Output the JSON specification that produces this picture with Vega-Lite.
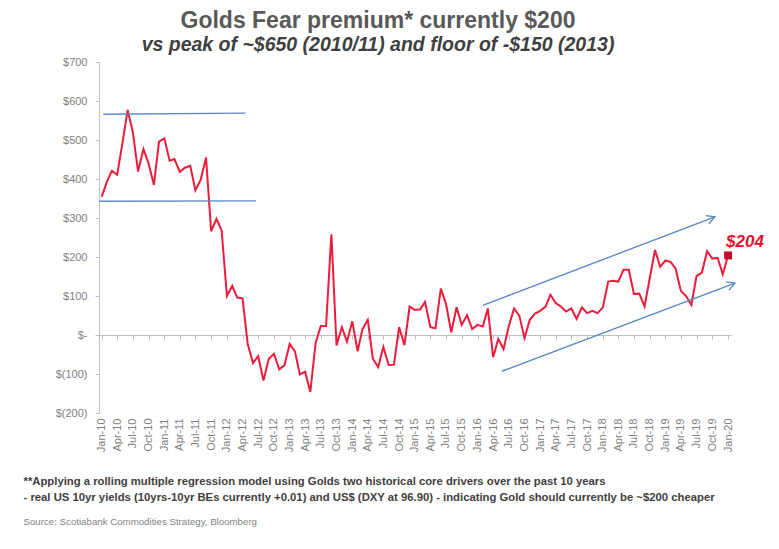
{
  "$schema": "https://vega.github.io/schema/vega-lite/v6.json",
  "width": 632,
  "height": 351,
  "autosize": {"type": "none"},
  "padding": {"left": 99, "top": 62, "right": 48, "bottom": 136},
  "background": "white",
  "config": {
    "view": {"stroke": null},
    "font": "Liberation Sans",
    "axisY": {
      "grid": false, "domainColor": "#bfbfbf", "tickColor": "#bfbfbf", "tickSize": 4,
      "labelPadding": 8, "labelOverlap": false, "labelFont": "Liberation Sans", "labelFontSize": 11, "labelColor": "#808080"
    }
  },
  "title": {
    "text": "Golds Fear premium* currently $200",
    "subtitle": "vs peak of ~$650 (2010/11) and floor of -$150 (2013)",
    "anchor": "middle",
    "frame": "group",
    "dx": -37,
    "offset": 2,
    "font": "Liberation Sans",
    "fontSize": 23,
    "fontWeight": "bold",
    "color": "#595959",
    "subtitleFont": "Liberation Sans",
    "subtitleFontSize": 19.5,
    "subtitleFontWeight": "bold",
    "subtitleFontStyle": "italic",
    "subtitleColor": "#404040",
    "subtitlePadding": 3
  },
  "datasets": {
    "series": [
      {"m": "2010-01", "v": 355}, {"m": "2010-02", "v": 394}, {"m": "2010-03", "v": 421}, {"m": "2010-04", "v": 411},
      {"m": "2010-05", "v": 490}, {"m": "2010-06", "v": 577}, {"m": "2010-07", "v": 521}, {"m": "2010-08", "v": 419},
      {"m": "2010-09", "v": 477}, {"m": "2010-10", "v": 440}, {"m": "2010-11", "v": 385}, {"m": "2010-12", "v": 496},
      {"m": "2011-01", "v": 504}, {"m": "2011-02", "v": 447}, {"m": "2011-03", "v": 451}, {"m": "2011-04", "v": 418},
      {"m": "2011-05", "v": 429}, {"m": "2011-06", "v": 434}, {"m": "2011-07", "v": 371}, {"m": "2011-08", "v": 398},
      {"m": "2011-09", "v": 455}, {"m": "2011-10", "v": 266}, {"m": "2011-11", "v": 298}, {"m": "2011-12", "v": 268},
      {"m": "2012-01", "v": 100}, {"m": "2012-02", "v": 126}, {"m": "2012-03", "v": 96}, {"m": "2012-04", "v": 94},
      {"m": "2012-05", "v": -23}, {"m": "2012-06", "v": -72}, {"m": "2012-07", "v": -54}, {"m": "2012-08", "v": -117},
      {"m": "2012-09", "v": -61}, {"m": "2012-10", "v": -48}, {"m": "2012-11", "v": -88}, {"m": "2012-12", "v": -78},
      {"m": "2013-01", "v": -23}, {"m": "2013-02", "v": -43}, {"m": "2013-03", "v": -101}, {"m": "2013-04", "v": -94},
      {"m": "2013-05", "v": -146}, {"m": "2013-06", "v": -21}, {"m": "2013-07", "v": 23}, {"m": "2013-08", "v": 23},
      {"m": "2013-09", "v": 258}, {"m": "2013-10", "v": -27}, {"m": "2013-11", "v": 20}, {"m": "2013-12", "v": -17},
      {"m": "2014-01", "v": 35}, {"m": "2014-02", "v": -42}, {"m": "2014-03", "v": 15}, {"m": "2014-04", "v": 39},
      {"m": "2014-05", "v": -61}, {"m": "2014-06", "v": -82}, {"m": "2014-07", "v": -31}, {"m": "2014-08", "v": -77},
      {"m": "2014-09", "v": -76}, {"m": "2014-10", "v": 20}, {"m": "2014-11", "v": -26}, {"m": "2014-12", "v": 73},
      {"m": "2015-01", "v": 64}, {"m": "2015-02", "v": 66}, {"m": "2015-03", "v": 85}, {"m": "2015-04", "v": 20},
      {"m": "2015-05", "v": 17}, {"m": "2015-06", "v": 119}, {"m": "2015-07", "v": 80}, {"m": "2015-08", "v": 7},
      {"m": "2015-09", "v": 71}, {"m": "2015-10", "v": 26}, {"m": "2015-11", "v": 51}, {"m": "2015-12", "v": 15},
      {"m": "2016-01", "v": 26}, {"m": "2016-02", "v": 22}, {"m": "2016-03", "v": 68}, {"m": "2016-04", "v": -57},
      {"m": "2016-05", "v": -10}, {"m": "2016-06", "v": -36}, {"m": "2016-07", "v": 22}, {"m": "2016-08", "v": 68},
      {"m": "2016-09", "v": 49}, {"m": "2016-10", "v": -8}, {"m": "2016-11", "v": 39}, {"m": "2016-12", "v": 55},
      {"m": "2017-01", "v": 62}, {"m": "2017-02", "v": 73}, {"m": "2017-03", "v": 103}, {"m": "2017-04", "v": 82},
      {"m": "2017-05", "v": 73}, {"m": "2017-06", "v": 60}, {"m": "2017-07", "v": 68}, {"m": "2017-08", "v": 41},
      {"m": "2017-09", "v": 71}, {"m": "2017-10", "v": 56}, {"m": "2017-11", "v": 62}, {"m": "2017-12", "v": 56},
      {"m": "2018-01", "v": 71}, {"m": "2018-02", "v": 137}, {"m": "2018-03", "v": 139}, {"m": "2018-04", "v": 137},
      {"m": "2018-05", "v": 167}, {"m": "2018-06", "v": 167}, {"m": "2018-07", "v": 105}, {"m": "2018-08", "v": 106},
      {"m": "2018-09", "v": 73}, {"m": "2018-10", "v": 145}, {"m": "2018-11", "v": 218}, {"m": "2018-12", "v": 175},
      {"m": "2019-01", "v": 191}, {"m": "2019-02", "v": 187}, {"m": "2019-03", "v": 170}, {"m": "2019-04", "v": 113},
      {"m": "2019-05", "v": 100}, {"m": "2019-06", "v": 77}, {"m": "2019-07", "v": 151}, {"m": "2019-08", "v": 160},
      {"m": "2019-09", "v": 215}, {"m": "2019-10", "v": 196}, {"m": "2019-11", "v": 198}, {"m": "2019-12", "v": 156},
      {"m": "2020-01", "v": 204}
    ],
    "last": [{"m": "2020-01", "v": 204, "label": "$204"}],
    "hlines": [
      {"x": "2010-01-10", "x2": "2012-04-18", "y": 566, "y2": 569},
      {"x": "2009-12-17", "x2": "2012-06-18", "y": 343, "y2": 344}
    ],
    "arrows": [
      {"x": "2016-02-01", "y": 76, "x2": "2019-10-16", "y2": 303},
      {"x": "2016-05-22", "y": -93, "x2": "2020-02-10", "y2": 133}
    ]
  },
  "resolve": {"axis": {"x": "independent"}},
  "layer": [
    {
      "data": {"name": "series"},
      "mark": {"type": "line", "color": "#EE1C3A", "strokeWidth": 2},
      "encoding": {
        "x": {
          "field": "m", "type": "temporal",
          "scale": {"type": "utc", "domain": [{"year": 2009, "month": 12, "date": 16, "utc": true}, {"year": 2020, "month": 1, "date": 18, "utc": true}]},
          "axis": {
            "orient": "bottom",
            "format": "%b-%y",
            "tickCount": {"interval": "month", "step": 3},
            "labelAngle": -90, "labelAlign": "right", "labelBaseline": "middle",
            "labelFont": "Liberation Sans", "labelFontSize": 11, "labelColor": "#7f7f7f",
            "labelPadding": 5, "labelOverlap": false, "labelFlush": false,
            "domain": false, "ticks": false, "grid": false,
            "title": ["**Applying a rolling multiple regression model using Golds two historical core drivers over the past 10 years", "- real US 10yr yields (10yrs-10yr BEs currently +0.01) and US$ (DXY at 96.90) - indicating Gold should currently be ~$200 cheaper"],
            "titleFont": "Liberation Sans",
            "titleFontSize": 11.3, "titleFontWeight": "bold", "titleColor": "#404040",
            "titleAlign": "left", "titleAnchor": "start", "titleX": -76, "titleY": 62,
            "titleBaseline": "top", "titleLineHeight": 16
          }
        },
        "y": {
          "field": "v", "type": "quantitative",
          "scale": {"domain": [-200, 700], "nice": false, "zero": false},
          "axis": {
            "values": [-200, -100, 0, 100, 200, 300, 400, 500, 600, 700],
            "tickCount": 10,
            "labelExpr": "datum.value == 0 ? '$-' : datum.value < 0 ? '$(' + (-datum.value) + ')' : '$' + datum.value",
            "labelOverlap": false,
            "title": null
          }
        }
      }
    },
    {
      "data": {"name": "hlines"},
      "mark": {"type": "rule", "color": "#5A8AC6", "strokeWidth": 1.4},
      "encoding": {
        "x": {
          "field": "x", "type": "temporal", "scale": {"type": "utc"},
          "axis": {
            "orient": "bottom",
            "tickCount": {"interval": "month", "step": 3},
            "labels": false, "domain": true, "domainColor": "#bfbfbf", "ticks": true,
            "tickColor": "#bfbfbf", "tickSize": 4, "grid": false, "offset": -78,
            "title": "Source: Scotiabank Commodities Strategy, Bloomberg",
            "titleFont": "Liberation Sans",
            "titleFontSize": 9.7, "titleFontWeight": "normal", "titleColor": "#7f7f7f",
            "titleAlign": "left", "titleAnchor": "start", "titleX": -76, "titleY": 186, "titleBaseline": "middle"
          }
        },
        "x2": {"field": "x2"},
        "y": {"field": "y", "type": "quantitative", "axis": {"values": [-200, -100, 0, 100, 200, 300, 400, 500, 600, 700], "tickCount": 10, "labelExpr": "datum.value == 0 ? '$-' : datum.value < 0 ? '$(' + (-datum.value) + ')' : '$' + datum.value", "labelOverlap": false, "title": null}},
        "y2": {"field": "y2"}
      }
    },
    {
      "data": {"name": "arrows"},
      "mark": {"type": "rule", "color": "#5A8AC6", "strokeWidth": 1.4},
      "encoding": {
        "x": {"field": "x", "type": "temporal", "scale": {"type": "utc"}, "axis": null},
        "x2": {"field": "x2"},
        "y": {"field": "y", "type": "quantitative", "axis": {"values": [-200, -100, 0, 100, 200, 300, 400, 500, 600, 700], "tickCount": 10, "labelExpr": "datum.value == 0 ? '$-' : datum.value < 0 ? '$(' + (-datum.value) + ')' : '$' + datum.value", "labelOverlap": false, "title": null}},
        "y2": {"field": "y2"}
      }
    },
    {
      "data": {"name": "arrows"},
      "mark": {"type": "point", "shape": "M-1,-0.55L0,0L-1,0.55", "filled": false, "stroke": "#5A8AC6", "strokeWidth": 1.4, "size": 256, "angle": -21, "opacity": 1},
      "encoding": {
        "x": {"field": "x2", "type": "temporal", "scale": {"type": "utc"}, "axis": null},
        "y": {"field": "y2", "type": "quantitative", "axis": {"values": [-200, -100, 0, 100, 200, 300, 400, 500, 600, 700], "tickCount": 10, "labelExpr": "datum.value == 0 ? '$-' : datum.value < 0 ? '$(' + (-datum.value) + ')' : '$' + datum.value", "labelOverlap": false, "title": null}}
      }
    },
    {
      "data": {"name": "last"},
      "mark": {"type": "point", "shape": "square", "filled": true, "color": "#C8102E", "size": 64, "opacity": 1},
      "encoding": {
        "x": {"field": "m", "type": "temporal", "scale": {"type": "utc"}, "axis": null},
        "y": {"field": "v", "type": "quantitative", "axis": {"values": [-200, -100, 0, 100, 200, 300, 400, 500, 600, 700], "tickCount": 10, "labelExpr": "datum.value == 0 ? '$-' : datum.value < 0 ? '$(' + (-datum.value) + ')' : '$' + datum.value", "labelOverlap": false, "title": null}}
      }
    },
    {
      "data": {"name": "last"},
      "mark": {"type": "text", "align": "left", "baseline": "middle", "dx": -2, "dy": -13, "font": "Liberation Sans", "fontSize": 17, "fontWeight": "bold", "fontStyle": "italic", "color": "#E8112D"},
      "encoding": {
        "x": {"field": "m", "type": "temporal", "scale": {"type": "utc"}, "axis": null},
        "y": {"field": "v", "type": "quantitative", "axis": {"values": [-200, -100, 0, 100, 200, 300, 400, 500, 600, 700], "tickCount": 10, "labelExpr": "datum.value == 0 ? '$-' : datum.value < 0 ? '$(' + (-datum.value) + ')' : '$' + datum.value", "labelOverlap": false, "title": null}},
        "text": {"field": "label"}
      }
    }
  ]
}
